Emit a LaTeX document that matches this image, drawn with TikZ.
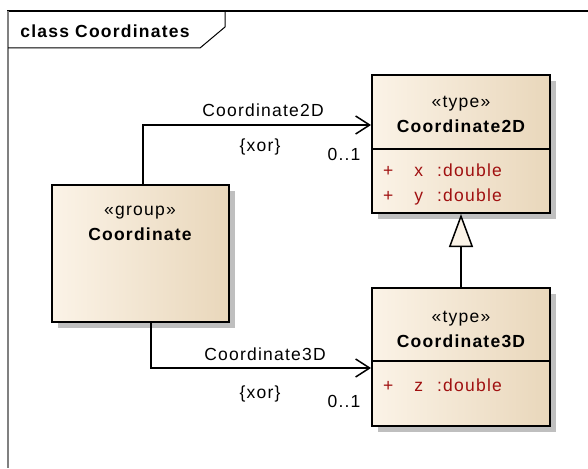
\documentclass[tikz,border=0pt]{standalone}
\usepackage{fontspec}
\setmainfont{Liberation Sans}[LetterSpace=7]
\usetikzlibrary{arrows.meta, positioning, shadows}

\definecolor{boxleft}{HTML}{FBF3E7}
\definecolor{boxright}{HTML}{E9D7BB}
\definecolor{attrred}{HTML}{A01010}
\definecolor{framegray}{HTML}{808080}

\tikzset{
  umlbox/.style={draw, line width=2pt, left color=boxleft, middle color=boxleft!90!boxright,
    right color=boxright,
    drop shadow={shadow xshift=6pt, shadow yshift=-6pt, fill=black!25, opacity=1}},
  txt/.style={font=\fontsize{17.5}{20}\selectfont, inner sep=0pt},
  bold/.style={txt, font=\fontsize{17.5}{20}\selectfont\bfseries},
  attr/.style={txt, text=attrred, anchor=west},
  assoc/.style={line width=1.5pt, -{Straight Barb[length=14pt, width=18pt, line width=1.5pt]}},
  gen/.style={line width=1.5pt, -{Triangle[open, length=33pt, width=24pt, line width=1.5pt, fill=boxleft]}}
}

\begin{document}
\begin{tikzpicture}[x=1pt, y=-1pt]
    \useasboundingbox (0,0) rectangle (588,468);

    % frame
    \draw[line width=1.2pt] (7,11) -- (588,11);
    \draw[framegray, line width=2pt] (8,11) -- (8,468);
    \draw[line width=1pt] (225,11) -- (225,27) -- (200,48) -- (8,48);
    \node[bold] (title) at (105,31) {class Coordinates};

    % classes
    \node[umlbox, minimum width=177pt, minimum height=137pt] (grp) at (140.5,253.5) {};
    \node[txt] (grpst) at (140,213) {«group»};
    \node[bold] (grpname) [below=8pt of grpst] {Coordinate};

    \node[umlbox, minimum width=178pt, minimum height=138pt] (c2d) at (461,144) {};
    \node[txt] (c2dst) at (461,104) {«type»};
    \node[bold] (c2dname) [below=8pt of c2dst] {Coordinate2D};
    \draw[line width=1.5pt] (c2d.west |- 0,149) -- (c2d.east |- 0,149);
    \node[attr] (c2dx) at (383,170) {+\hspace{21pt}x\hspace{14pt}:double};
    \node[attr] (c2dy) at (383,197) {+\hspace{21pt}y\hspace{14pt}:double};

    \node[umlbox, minimum width=178pt, minimum height=138pt] (c3d) at (461,357) {};
    \node[txt] (c3dst) at (461,319) {«type»};
    \node[bold] (c3dname) [below=8pt of c3dst] {Coordinate3D};
    \draw[line width=1.5pt] (c3d.west |- 0,361) -- (c3d.east |- 0,361);
    \node[attr] (c3dz) at (383,385) {+\hspace{21pt}z\hspace{14pt}:double};

    % connectors
    \draw[gen] (c3d.north) -- (c2d.south);
    \draw[assoc] ([xshift=2.5pt]grp.north) |- ([yshift=19pt]c2d.west);
    \draw[assoc] ([xshift=10.5pt]grp.south) |- ([yshift=-11pt]c3d.west);

    % labels
    \node[txt] (l2d) at (263,110) {Coordinate2D};
    \node[txt] (x2d) at (260,147) {\{xor\}};
    \node[txt] (m2d) at (344,154) {0..1};
    \node[txt] (l3d) at (265,354) {Coordinate3D};
    \node[txt] (x3d) at (260,394) {\{xor\}};
    \node[txt] (m3d) at (344,401) {0..1};
\end{tikzpicture}
\end{document}
